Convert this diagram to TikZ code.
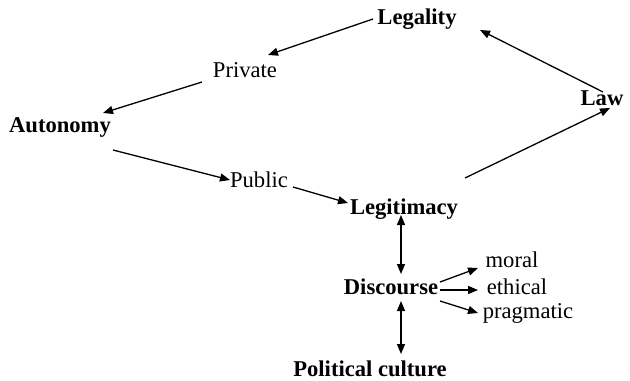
\documentclass[tikz,border=0pt]{standalone}
\usepackage{fontspec}
\setmainfont{Liberation Serif}
\usetikzlibrary{arrows.meta,calc}
\begin{document}
\begin{tikzpicture}[x=0.5pt,y=-0.5pt,
  lbl/.style={inner sep=0pt,anchor=base,font=\fontsize{11.3}{13}\selectfont},
  key/.style={lbl,font=\fontsize{11.3}{13}\selectfont\bfseries},
  arr/.style={line width=0.65pt,-{Triangle[length=5pt,width=4pt]}},
  darr/.style={line width=0.65pt,{Triangle[length=5pt,width=4pt]}-{Triangle[length=5pt,width=4pt]}}]
\useasboundingbox[fill=white] (0,0) rectangle (630,380);
\node[key] (legality) at (417,25) {Legality};
\node[lbl] (private) at (245,77) {Private};
\node[key] (law) at (602,105) {Law};
\node[key] (autonomy) at (60,132) {Autonomy};
\node[lbl] (public) at (259,187) {Public};
\node[key] (legitimacy) at (404,214) {Legitimacy};
\node[key] (discourse) at (391,294) {Discourse};
\node[key] (political) at (370,376) {Political culture};
\node[lbl] (moral) at (512,267) {moral};
\node[lbl] (ethical) at (517,294) {ethical};
\node[lbl] (pragmatic) at (528,318) {pragmatic};
\draw[arr] ($(legality.base)+(-44,-6)$) -- ($(private.base)+(23,-22)$);
\draw[arr] ($(private.base)+(-43,5)$) -- ($(autonomy.base)+(43,-19)$);
\draw[arr] ($(autonomy.base)+(53,18)$) -- ($(public.base)+(-29,-7)$);
\draw[arr] ($(public.base)+(34,0)$) -- ($(legitimacy.base)+(-56,-11)$);
\draw[arr] ($(legitimacy.base)+(61,-36)$) -- ($(law.base)+(8,3)$);
\draw[arr] ($(law.base)+(1,-13)$) -- ($(legality.base)+(63,5)$);
\draw[darr] ($(legitimacy.base)+(-3,1)$) -- ($(discourse.base)+(10,-20)$);
\draw[darr] ($(discourse.base)+(10,7)$) -- ($(political.base)+(31,-22)$);
\draw[arr] ($(discourse.base)+(49,-12)$) -- ($(moral.base)+(-34,1)$);
\draw[arr] ($(discourse.base)+(49,-4)$) -- ($(ethical.base)+(-39,-4)$);
\draw[arr] ($(discourse.base)+(49,7)$) -- ($(pragmatic.base)+(-50,-5)$);
\end{tikzpicture}
\end{document}
